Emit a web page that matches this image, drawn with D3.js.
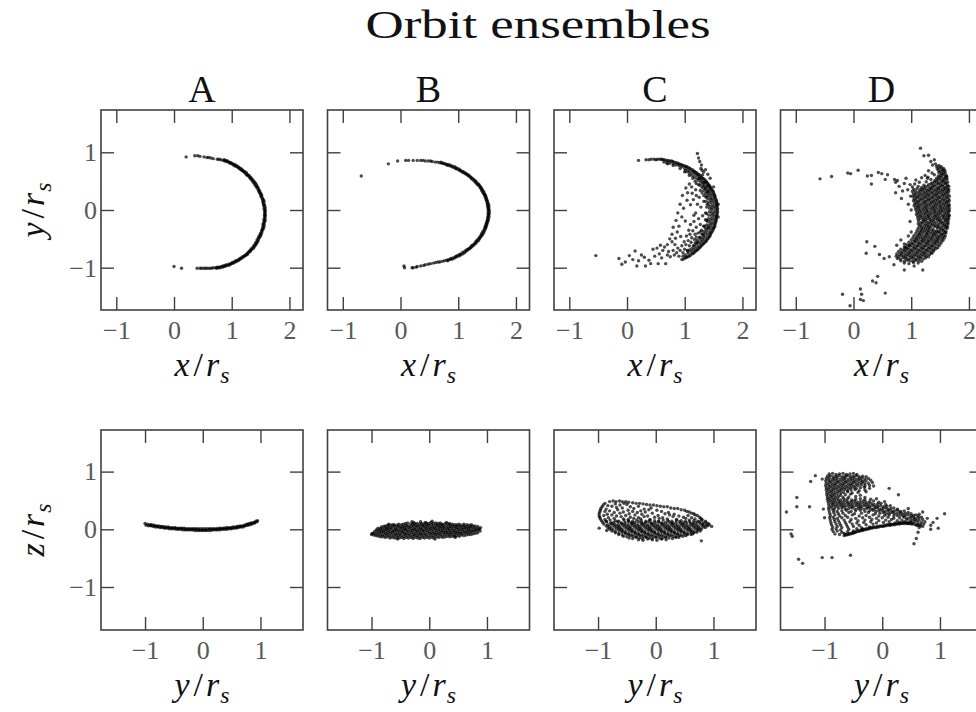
<!DOCTYPE html>
<html>
<head>
<meta charset="utf-8">
<script src="https://cdn.jsdelivr.net/npm/d3@7"></script>
<style>
html,body{margin:0;padding:0;background:#fff;overflow:hidden}
svg{display:block}
</style>
</head>
<body>
<svg id="fig" width="976" height="712"></svg>
<script>
// ---- ensemble labels and ticks ----
const ensembleNames = ["A", "B", "C", "D"];
const xyTicksX = [-1, 0, 1, 2];
const yzTicksX = [-1, 0, 1];
const ticksY = [-1, 0, 1];

// ---- particle positions, in units of r_s ----
// ensemble A, x-y plane
const orbitA_xy = [
[0.75,0.88],[0.78,0.88],[0.81,0.87],[0.85,0.86],[0.88,0.85],[0.91,0.84],[0.94,0.83],[0.97,0.81],[1.00,0.80],[1.03,0.78],[1.06,0.76],[1.09,0.75],[1.12,0.73],[1.14,0.71],[1.17,0.69],[1.20,0.67],[1.22,0.65],[1.25,0.62],[1.27,0.60],[1.30,0.58],[1.32,0.55],[1.34,0.53],[1.36,0.50],[1.38,0.47],[1.40,0.44],[1.42,0.41],[1.44,0.38],[1.46,0.35],[1.47,0.32],[1.49,0.29],[1.50,0.26],[1.51,0.23],[1.53,0.19],[1.54,0.16],[1.54,0.13],[1.55,0.09],[1.56,0.06],[1.56,0.02],[1.57,-0.01],[1.57,-0.05],[1.57,-0.09],[1.57,-0.12],[1.56,-0.16],[1.56,-0.19],[1.55,-0.23],[1.54,-0.26],[1.54,-0.30],[1.53,-0.33],[1.52,-0.36],[1.50,-0.40],[1.49,-0.43],[1.47,-0.46],[1.46,-0.49],[1.44,-0.52],[1.42,-0.56],[1.41,-0.59],[1.39,-0.61],[1.37,-0.64],[1.34,-0.67],[1.32,-0.70],[1.30,-0.72],[1.27,-0.75],[1.25,-0.77],[1.22,-0.79],[1.19,-0.81],[1.16,-0.83],[1.13,-0.85],[1.10,-0.87],[1.07,-0.88],[1.04,-0.90],[1.01,-0.91],[0.98,-0.93],[0.95,-0.94],[0.91,-0.95],[0.88,-0.96],[0.85,-0.97],[0.82,-0.98],[0.78,-0.99],[0.75,-0.99],[0.72,-1.00],[0.68,-1.00],[0.65,-1.01],[0.62,-1.01],[0.58,-1.01],[0.55,-1.01],[0.52,-1.01],[0.48,-1.01],[0.45,-1.01],
[0.87,0.87],[0.90,0.86],[0.93,0.85],[0.96,0.83],[0.99,0.82],[1.02,0.80],[1.05,0.79],[1.08,0.77],[1.11,0.75],[1.14,0.73],[1.17,0.71],[1.19,0.69],[1.22,0.67],[1.25,0.65],[1.27,0.62],[1.30,0.60],[1.32,0.57],[1.34,0.55],[1.37,0.52],[1.39,0.49],[1.41,0.47],[1.43,0.44],[1.44,0.41],[1.46,0.38],[1.48,0.34],[1.49,0.31],[1.51,0.28],[1.52,0.25],[1.53,0.21],[1.55,0.18],[1.56,0.15],[1.56,0.11],[1.57,0.08],[1.58,0.04],[1.58,0.00],[1.58,-0.03],[1.58,-0.07],[1.58,-0.10],[1.58,-0.14],[1.58,-0.18],[1.57,-0.21],[1.56,-0.25],[1.56,-0.28],[1.55,-0.32],[1.53,-0.35],[1.52,-0.39],[1.51,-0.42],[1.50,-0.45],[1.48,-0.48],[1.46,-0.52],[1.45,-0.55],[1.43,-0.58],[1.41,-0.61],[1.39,-0.64],[1.37,-0.67],[1.34,-0.69],[1.32,-0.72],[1.29,-0.74],[1.27,-0.77],[1.24,-0.79],[1.21,-0.81],[1.18,-0.83],[1.15,-0.85],[1.12,-0.87],[1.09,-0.89],[1.06,-0.90],[1.03,-0.92],[1.00,-0.93],[0.97,-0.95],[0.94,-0.96],[0.90,-0.97],[0.87,-0.98],[0.84,-0.99],[0.80,-1.00],[0.77,-1.00],[0.74,-1.01],
[0.21,0.92],[0.36,0.94],[0.41,0.94],[0.45,0.93],[0.52,0.92],[0.57,0.91],[0.60,0.91],[0.64,0.90],[0.68,0.89],[0.00,-0.98],[0.13,-1.01],[0.40,-1.01]
];
// ensemble A, y-z plane
const orbitA_yz = [
[-1.00,0.10],[-0.96,0.09],[-0.92,0.08],[-0.88,0.08],[-0.84,0.07],[-0.80,0.06],[-0.76,0.06],[-0.72,0.05],[-0.68,0.05],[-0.64,0.04],[-0.60,0.04],[-0.56,0.03],[-0.52,0.03],[-0.48,0.03],[-0.44,0.02],[-0.40,0.02],[-0.36,0.02],[-0.32,0.02],[-0.28,0.01],[-0.24,0.01],[-0.20,0.01],[-0.16,0.01],[-0.12,0.01],[-0.08,0.01],[-0.04,0.01],[0.00,0.01],[0.04,0.01],[0.08,0.01],[0.12,0.01],[0.16,0.01],[0.20,0.01],[0.24,0.01],[0.28,0.02],[0.32,0.02],[0.36,0.02],[0.40,0.03],[0.44,0.03],[0.48,0.03],[0.52,0.04],[0.56,0.04],[0.60,0.05],[0.64,0.06],[0.68,0.06],[0.72,0.07],[0.76,0.09],[0.80,0.10],[0.84,0.11],[0.88,0.12],[0.92,0.14],
[-0.98,0.07],[-0.94,0.06],[-0.90,0.06],[-0.86,0.05],[-0.82,0.04],[-0.78,0.04],[-0.74,0.03],[-0.70,0.03],[-0.66,0.02],[-0.62,0.02],[-0.58,0.01],[-0.54,0.01],[-0.50,0.01],[-0.46,0.00],[-0.42,0.00],[-0.38,0.00],[-0.34,-0.01],[-0.30,-0.01],[-0.26,-0.01],[-0.22,-0.01],[-0.18,-0.01],[-0.14,-0.02],[-0.10,-0.02],[-0.06,-0.02],[-0.02,-0.02],[0.02,-0.02],[0.06,-0.02],[0.10,-0.02],[0.14,-0.02],[0.18,-0.01],[0.22,-0.01],[0.26,-0.01],[0.30,-0.01],[0.34,0.00],[0.38,0.00],[0.42,0.00],[0.46,0.01],[0.50,0.01],[0.54,0.02],[0.58,0.02],[0.62,0.03],[0.66,0.04],[0.70,0.04],[0.74,0.06],[0.78,0.07],[0.82,0.08],[0.86,0.09],[0.90,0.11],[0.94,0.13],
[-0.90,0.07],[-0.84,0.06],[-0.78,0.05],[-0.72,0.04],[-0.66,0.03],[-0.60,0.03],[-0.54,0.02],[-0.48,0.02],[-0.42,0.01],[-0.36,0.01],[-0.30,0.00],[-0.24,0.00],[-0.18,0.00],[-0.12,0.00],[-0.06,-0.01],[0.00,-0.01],[0.06,-0.01],[0.12,0.00],[0.18,0.00],[0.24,0.00],[0.30,0.01],[0.36,0.01],[0.42,0.02],[0.48,0.02],[0.54,0.03],[0.60,0.04],[0.66,0.05],[0.72,0.06],[0.78,0.08],[0.84,0.10],[0.90,0.12],[0.95,0.15]
];
// ensemble B, x-y plane
const orbitB_xy = [
[0.55,0.84],[0.60,0.83],[0.64,0.83],[0.68,0.82],[0.72,0.81],[0.76,0.80],[0.80,0.78],[0.83,0.77],[0.87,0.76],[0.91,0.74],[0.95,0.72],[0.98,0.71],[1.02,0.69],[1.05,0.67],[1.08,0.65],[1.12,0.63],[1.15,0.61],[1.18,0.59],[1.21,0.57],[1.23,0.54],[1.26,0.52],[1.29,0.49],[1.31,0.47],[1.33,0.44],[1.36,0.42],[1.38,0.39],[1.40,0.36],[1.41,0.33],[1.43,0.30],[1.45,0.27],[1.46,0.25],[1.47,0.22],[1.48,0.19],[1.49,0.16],[1.50,0.12],[1.51,0.09],[1.51,0.06],[1.52,0.03],[1.52,0.00],[1.52,-0.03],[1.52,-0.06],[1.52,-0.09],[1.51,-0.13],[1.51,-0.16],[1.50,-0.19],[1.49,-0.22],[1.48,-0.25],[1.47,-0.28],[1.46,-0.31],[1.45,-0.34],[1.43,-0.37],[1.41,-0.40],[1.40,-0.43],[1.38,-0.46],[1.36,-0.49],[1.33,-0.52],[1.31,-0.54],[1.29,-0.57],[1.26,-0.60],[1.23,-0.62],[1.21,-0.65],[1.18,-0.67],[1.15,-0.69],[1.12,-0.71],[1.08,-0.73],[1.05,-0.76],[1.02,-0.77],[0.98,-0.79],[0.95,-0.81],[0.91,-0.83],[0.87,-0.84],[0.83,-0.86],[0.80,-0.87],[0.76,-0.88],
[0.70,0.83],[0.74,0.81],[0.78,0.80],[0.82,0.79],[0.86,0.78],[0.90,0.76],[0.94,0.75],[0.97,0.73],[1.01,0.71],[1.04,0.69],[1.08,0.67],[1.11,0.65],[1.14,0.63],[1.17,0.61],[1.20,0.59],[1.23,0.56],[1.26,0.54],[1.29,0.51],[1.31,0.49],[1.34,0.46],[1.36,0.44],[1.38,0.41],[1.40,0.38],[1.42,0.35],[1.44,0.32],[1.45,0.29],[1.47,0.26],[1.48,0.23],[1.49,0.20],[1.50,0.17],[1.51,0.14],[1.52,0.11],[1.53,0.08],[1.53,0.05],[1.53,0.02],[1.54,-0.01],[1.54,-0.05],[1.53,-0.08],[1.53,-0.11],[1.53,-0.14],[1.52,-0.18],[1.51,-0.21],[1.50,-0.24],[1.49,-0.27],[1.48,-0.30],[1.47,-0.33],[1.45,-0.37],[1.44,-0.40],[1.42,-0.43],[1.40,-0.45],[1.38,-0.48],[1.36,-0.51],[1.34,-0.54],[1.31,-0.57],[1.29,-0.59],[1.26,-0.62],[1.23,-0.64],[1.20,-0.67],[1.17,-0.69],[1.14,-0.71],[1.11,-0.74],[1.08,-0.76],[1.04,-0.78],[1.01,-0.80],[0.97,-0.81],[0.94,-0.83],[0.90,-0.85],[0.86,-0.86],[0.82,-0.88],
[-0.68,0.59],[-0.21,0.80],[-0.05,0.85],[0.09,0.86],[0.14,0.86],[0.22,0.86],[0.29,0.86],[0.35,0.86],[0.39,0.86],[0.43,0.85],[0.48,0.85],[0.52,0.85],
[0.06,-0.97],[0.07,-1.00],[0.20,-1.00],[0.22,-1.00],[0.27,-0.99],[0.29,-0.98],[0.35,-0.97],[0.40,-0.96],[0.43,-0.95],[0.48,-0.94],[0.52,-0.93],[0.57,-0.92],[0.61,-0.91],[0.65,-0.90],[0.68,-0.90],[0.72,-0.89]
];
// ensemble B, y-z plane
const orbitB_yz = [
[-1.00,-0.09],[-0.99,-0.07],
[-0.96,-0.10],[-0.97,-0.07],[-0.95,-0.04],
[-0.92,-0.11],[-0.93,-0.08],[-0.91,-0.04],[-0.92,-0.01],
[-0.88,-0.12],[-0.89,-0.08],[-0.87,-0.05],[-0.88,-0.01],[-0.89,0.02],
[-0.84,-0.13],[-0.85,-0.09],[-0.83,-0.05],[-0.84,-0.02],[-0.85,0.01],[-0.83,0.04],
[-0.80,-0.13],[-0.81,-0.10],[-0.79,-0.06],[-0.80,-0.03],[-0.81,0.01],[-0.79,0.05],
[-0.76,-0.14],[-0.77,-0.10],[-0.75,-0.07],[-0.76,-0.03],[-0.77,0.00],[-0.75,0.03],[-0.76,0.06],
[-0.72,-0.13],[-0.73,-0.09],[-0.71,-0.06],[-0.72,-0.02],[-0.73,0.01],[-0.71,0.04],[-0.72,0.07],
[-0.68,-0.15],[-0.69,-0.11],[-0.67,-0.07],[-0.68,-0.04],[-0.69,0.00],[-0.67,0.03],[-0.68,0.07],
[-0.64,-0.14],[-0.65,-0.10],[-0.63,-0.06],[-0.64,-0.03],[-0.65,0.01],[-0.63,0.05],[-0.64,0.08],
[-0.60,-0.15],[-0.61,-0.11],[-0.59,-0.08],[-0.60,-0.04],[-0.61,-0.01],[-0.59,0.02],[-0.60,0.06],[-0.61,0.08],
[-0.56,-0.14],[-0.57,-0.10],[-0.55,-0.07],[-0.56,-0.03],[-0.57,0.00],[-0.55,0.04],[-0.56,0.07],
[-0.52,-0.15],[-0.53,-0.11],[-0.51,-0.08],[-0.52,-0.04],[-0.53,-0.01],[-0.51,0.03],[-0.52,0.06],[-0.53,0.09],
[-0.48,-0.14],[-0.49,-0.10],[-0.47,-0.06],[-0.48,-0.03],[-0.49,0.01],[-0.47,0.04],[-0.48,0.08],
[-0.44,-0.16],[-0.45,-0.12],[-0.43,-0.08],[-0.44,-0.05],[-0.45,-0.01],[-0.43,0.02],[-0.44,0.05],[-0.45,0.09],
[-0.40,-0.14],[-0.41,-0.10],[-0.39,-0.07],[-0.40,-0.03],[-0.41,0.00],[-0.39,0.04],[-0.40,0.07],[-0.41,0.10],
[-0.36,-0.15],[-0.37,-0.11],[-0.35,-0.08],[-0.36,-0.04],[-0.37,-0.01],[-0.35,0.03],[-0.36,0.06],[-0.37,0.11],
[-0.32,-0.14],[-0.33,-0.10],[-0.31,-0.06],[-0.32,-0.02],[-0.33,0.02],[-0.31,0.05],[-0.32,0.09],
[-0.28,-0.16],[-0.29,-0.12],[-0.27,-0.09],[-0.28,-0.05],[-0.29,-0.01],[-0.27,0.02],[-0.28,0.06],[-0.29,0.09],[-0.27,0.12],
[-0.24,-0.14],[-0.25,-0.10],[-0.23,-0.07],[-0.24,-0.03],[-0.25,0.00],[-0.23,0.04],[-0.24,0.07],[-0.25,0.10],
[-0.20,-0.15],[-0.21,-0.11],[-0.19,-0.08],[-0.20,-0.04],[-0.21,-0.01],[-0.19,0.03],[-0.20,0.06],[-0.21,0.10],
[-0.16,-0.16],[-0.17,-0.12],[-0.15,-0.08],[-0.16,-0.05],[-0.17,-0.01],[-0.15,0.02],[-0.16,0.06],[-0.17,0.09],[-0.15,0.13],
[-0.12,-0.14],[-0.13,-0.10],[-0.11,-0.07],[-0.12,-0.03],[-0.13,0.00],[-0.11,0.04],[-0.12,0.07],[-0.13,0.10],
[-0.08,-0.15],[-0.09,-0.11],[-0.07,-0.08],[-0.08,-0.04],[-0.09,-0.01],[-0.07,0.03],[-0.08,0.06],[-0.09,0.09],[-0.07,0.12],
[-0.04,-0.14],[-0.05,-0.10],[-0.03,-0.06],[-0.04,-0.02],[-0.05,0.01],[-0.03,0.05],[-0.04,0.08],[-0.05,0.11],
[0.00,-0.15],[-0.01,-0.11],[0.01,-0.07],[0.00,-0.04],[-0.01,0.00],[0.01,0.03],[0.00,0.07],[-0.01,0.10],
[0.04,-0.14],[0.03,-0.10],[0.05,-0.07],[0.04,-0.03],[0.03,0.01],[0.05,0.04],[0.04,0.08],[0.03,0.12],
[0.08,-0.15],[0.07,-0.11],[0.09,-0.07],[0.08,-0.04],[0.07,0.00],[0.09,0.03],[0.08,0.06],[0.07,0.10],
[0.12,-0.13],[0.11,-0.09],[0.13,-0.06],[0.12,-0.02],[0.11,0.01],[0.13,0.05],[0.12,0.08],[0.11,0.11],
[0.16,-0.14],[0.15,-0.10],[0.17,-0.07],[0.16,-0.03],[0.15,0.00],[0.17,0.04],[0.16,0.07],[0.15,0.10],
[0.20,-0.13],[0.19,-0.09],[0.21,-0.05],[0.20,-0.02],[0.19,0.02],[0.21,0.05],[0.20,0.08],[0.19,0.11],
[0.24,-0.14],[0.23,-0.10],[0.25,-0.06],[0.24,-0.03],[0.23,0.01],[0.25,0.04],[0.24,0.07],[0.23,0.09],
[0.28,-0.13],[0.27,-0.09],[0.29,-0.05],[0.28,-0.02],[0.27,0.02],[0.29,0.06],[0.28,0.10],
[0.32,-0.12],[0.31,-0.08],[0.33,-0.05],[0.32,-0.01],[0.31,0.02],[0.33,0.05],[0.32,0.09],
[0.36,-0.13],[0.35,-0.09],[0.37,-0.06],[0.36,-0.02],[0.35,0.01],[0.37,0.05],[0.36,0.08],[0.35,0.10],
[0.40,-0.12],[0.39,-0.08],[0.41,-0.04],[0.40,-0.01],[0.39,0.03],[0.41,0.06],[0.40,0.09],
[0.44,-0.12],[0.43,-0.09],[0.45,-0.05],[0.44,-0.02],[0.43,0.02],[0.45,0.05],[0.44,0.08],
[0.48,-0.11],[0.47,-0.07],[0.49,-0.04],[0.48,0.00],[0.47,0.03],[0.49,0.06],[0.48,0.08],
[0.52,-0.12],[0.51,-0.08],[0.53,-0.05],[0.52,-0.01],[0.51,0.02],[0.53,0.06],[0.52,0.09],
[0.56,-0.10],[0.55,-0.07],[0.57,-0.03],[0.56,0.00],[0.55,0.04],[0.57,0.07],
[0.60,-0.11],[0.59,-0.07],[0.61,-0.04],[0.60,0.00],[0.59,0.03],[0.61,0.06],[0.60,0.09],
[0.64,-0.10],[0.63,-0.06],[0.65,-0.03],[0.64,0.01],[0.63,0.04],[0.65,0.08],
[0.68,-0.09],[0.67,-0.06],[0.69,-0.02],[0.68,0.01],[0.67,0.04],[0.69,0.07],
[0.72,-0.09],[0.71,-0.05],[0.73,-0.02],[0.72,0.02],[0.71,0.05],[0.73,0.08],
[0.76,-0.08],[0.75,-0.04],[0.77,-0.01],[0.76,0.03],[0.75,0.06],
[0.80,-0.07],[0.79,-0.03],[0.81,0.00],[0.80,0.03],[0.79,0.06],
[0.84,-0.06],[0.83,-0.02],[0.85,0.01],[0.84,0.05],
[0.88,-0.03],[0.87,0.00],[0.89,0.03],
[-0.70,0.09],[-0.30,0.13],[0.05,0.14],[0.30,0.12],[-0.55,-0.17],[0.10,-0.17],[0.45,-0.14]
];
// ensemble C, x-y plane
const orbitC_xy = [
[0.57,0.88],[0.62,0.87],[0.68,0.86],[0.74,0.85],[0.79,0.84],[0.85,0.82],[0.90,0.80],[0.95,0.78],[1.01,0.76],[1.05,0.74],[1.10,0.71],[1.15,0.68],[1.19,0.65],[1.23,0.62],[1.27,0.59],[1.31,0.55],[1.35,0.52],[1.38,0.48],[1.41,0.44],[1.44,0.40],[1.46,0.36],[1.49,0.32],[1.51,0.27],[1.52,0.23],[1.54,0.18],[1.55,0.14],[1.55,0.09],[1.56,0.05],[1.56,0.00],[1.56,-0.05],[1.55,-0.10],[1.55,-0.15],[1.54,-0.20],[1.52,-0.25],[1.51,-0.30],[1.49,-0.34],[1.46,-0.39],[1.44,-0.44],[1.41,-0.48],[1.38,-0.52],[1.35,-0.56],[1.31,-0.60],[1.27,-0.64],[1.23,-0.68],[1.19,-0.71],[1.15,-0.75],[1.10,-0.78],[1.05,-0.81],[1.01,-0.83],[0.95,-0.86],
[0.60,0.88],[0.65,0.87],[0.71,0.86],[0.77,0.85],[0.82,0.83],[0.88,0.81],[0.93,0.79],[0.98,0.77],[1.03,0.75],[1.08,0.73],[1.13,0.70],[1.17,0.67],[1.21,0.64],[1.25,0.61],[1.29,0.57],[1.33,0.54],[1.37,0.50],[1.40,0.46],[1.43,0.42],[1.45,0.38],[1.48,0.34],[1.50,0.30],[1.52,0.25],[1.53,0.21],[1.55,0.16],[1.56,0.11],[1.56,0.07],[1.57,0.02],[1.57,-0.03],[1.56,-0.08],[1.55,-0.13],[1.54,-0.18],[1.53,-0.23],[1.52,-0.28],[1.50,-0.32],[1.48,-0.37],[1.45,-0.41],[1.43,-0.46],[1.40,-0.50],[1.37,-0.54],[1.33,-0.58],[1.29,-0.62],[1.25,-0.66],[1.21,-0.70],[1.17,-0.73],[1.13,-0.76],[1.08,-0.80],[1.03,-0.82],[0.98,-0.85],
[0.64,0.83],[0.69,0.82],[0.74,0.81],[0.80,0.80],[0.85,0.78],[0.90,0.77],[0.95,0.75],[1.00,0.72],[1.05,0.70],[1.09,0.67],[1.14,0.65],[1.18,0.62],[1.22,0.59],[1.25,0.55],[1.29,0.52],[1.32,0.48],[1.35,0.45],[1.38,0.41],[1.41,0.37],[1.43,0.33],[1.45,0.29],[1.47,0.25],[1.48,0.20],[1.50,0.16],[1.51,0.12],[1.51,0.07],[1.52,0.03],[1.52,-0.02],[1.51,-0.06],[1.51,-0.11],[1.50,-0.16],[1.49,-0.21],[1.47,-0.25],[1.46,-0.30],[1.44,-0.34],[1.42,-0.39],[1.39,-0.43],[1.36,-0.47],[1.33,-0.51],[1.30,-0.55],[1.27,-0.59],[1.23,-0.63],[1.19,-0.66],[1.15,-0.69],[1.11,-0.72],[1.06,-0.75],[1.01,-0.78],[0.97,-0.80],
[1.01,0.68],[1.05,0.66],[1.09,0.63],[1.13,0.60],[1.17,0.57],[1.21,0.54],[1.24,0.51],[1.28,0.48],[1.31,0.44],[1.33,0.41],[1.36,0.37],[1.38,0.33],[1.40,0.29],[1.42,0.25],[1.44,0.21],[1.45,0.17],[1.46,0.13],[1.47,0.08],[1.47,0.04],[1.47,0.00],[1.47,-0.05],[1.47,-0.09],[1.46,-0.14],[1.45,-0.18],[1.44,-0.23],[1.42,-0.27],[1.40,-0.32],[1.38,-0.36],[1.36,-0.40],[1.33,-0.44],[1.31,-0.48],[1.28,-0.52],[1.24,-0.56],[1.21,-0.59],[1.17,-0.62],[1.13,-0.66],[1.09,-0.69],[1.05,-0.71],
[1.26,0.43],[1.30,0.39],[1.33,0.34],[1.36,0.29],[1.38,0.24],[1.40,0.19],[1.41,0.13],[1.42,0.08],[1.43,0.03],[1.43,-0.03],[1.42,-0.09],[1.41,-0.15],[1.40,-0.20],[1.38,-0.26],[1.36,-0.32],[1.33,-0.37],[1.30,-0.42],[1.26,-0.47],[1.22,-0.52],[1.18,-0.57],
[1.33,0.25],[1.36,0.15],[1.38,0.05],[1.38,-0.06],[1.36,-0.17],[1.33,-0.28],[1.27,-0.38],[1.20,-0.47],
[-0.54,-0.79],[-0.14,-0.84],[-0.09,-0.94],[0.04,-0.79],[0.14,-0.71],[0.17,-0.97],[0.25,-0.78],[0.32,-0.97],[0.38,-0.87],[0.41,-0.93],[0.45,-0.68],[0.54,-0.93],[0.56,-0.76],[0.58,-0.61],[0.65,-0.64],[0.67,-0.93],[0.75,-0.81],[0.78,-0.55],[0.80,-0.30],[0.84,-0.49],[0.87,-0.38],[0.90,-0.28],[0.93,-0.46],[0.95,-0.12],[0.98,0.03],[1.01,-0.19],[1.04,0.17],[1.07,-0.35],[1.10,0.09],[1.13,0.29],[1.16,-0.09],[1.19,0.35],
[1.22,0.98],[1.24,0.90],[1.26,0.84],[1.29,0.78],[1.30,0.69],[1.31,0.61],[1.28,0.72],[1.33,0.66],
[0.70,-0.78],[0.72,-0.72],[0.80,-0.70],[0.82,-0.78],[0.86,-0.74],[0.88,-0.66],[0.90,-0.80],[0.92,-0.70],[0.95,-0.62],[0.97,-0.74],[0.99,-0.55],[1.00,-0.68],[1.02,-0.60],[1.03,-0.45],[1.05,-0.70],[1.06,-0.53],[1.08,-0.62],[1.09,-0.42],[1.10,-0.25],[1.11,-0.56],[1.12,-0.48],[1.14,-0.36],[1.15,-0.62],[1.16,-0.20],[1.17,-0.51],[1.18,-0.42],[1.19,-0.05],[1.20,-0.30],[1.21,-0.56],[1.22,0.10],[1.23,-0.40],[1.24,-0.15],[1.25,0.22],[1.26,-0.48],[1.27,-0.25],[1.28,0.05],[1.29,-0.35],[1.30,0.30],[1.31,-0.10],[1.32,-0.42],[1.33,0.15],[1.34,-0.28],[1.35,0.38],[1.36,-0.05],[1.37,0.22],[1.38,-0.18],[1.39,0.10],[1.40,0.32],[1.41,-0.30],[1.12,0.40],[1.15,0.18],[1.18,0.50],[1.20,0.25],[1.24,0.44],[1.27,0.34],[1.05,0.30],[1.08,0.45],[1.02,0.38],[0.96,0.25],[0.92,0.10],[0.88,-0.05],[0.85,-0.18],[0.83,-0.60],[0.78,-0.42],[0.74,-0.50],[0.70,-0.60],[0.62,-0.70],[0.60,-0.83],[0.52,-0.66],[0.48,-0.80],[0.30,-0.82],[0.20,-0.88],[0.10,-0.86],[-0.03,-0.90],
[0.70,0.80],[0.80,0.77],[0.92,0.72],[1.00,0.66],[1.08,0.60],[1.14,0.55],[1.20,0.46],[1.26,0.55],[1.34,0.48],[1.40,0.42],
[0.20,0.86],[0.33,0.87],[0.38,0.87],[0.42,0.88],[0.47,0.88],[0.50,0.87],[0.53,0.88],
[1.44,0.55],[1.50,0.40],[1.58,0.10],[1.58,-0.12],[1.40,0.62],[1.36,0.70]
];
// ensemble C, y-z plane
const orbitC_yz = [
[-0.80,0.48],[-0.74,0.49],[-0.69,0.48],[-0.63,0.49],[-0.58,0.48],[-0.52,0.48],[-0.47,0.47],
[-0.88,0.45],[-0.70,0.44],[-0.55,0.45],[-0.40,0.46],[-0.34,0.45],[-0.28,0.45],[-0.22,0.44],
[-0.91,0.42],[-0.83,0.41],[-0.62,0.42],[-0.50,0.43],[-0.16,0.43],[-0.10,0.42],[-0.04,0.42],[0.02,0.41],
[-0.93,0.39],[-0.76,0.40],[-0.68,0.38],[-0.44,0.39],[-0.30,0.40],[0.08,0.40],[0.14,0.39],[0.20,0.39],
[-0.95,0.36],[-0.86,0.35],[-0.58,0.37],[-0.38,0.36],[-0.20,0.35],[-0.08,0.37],[0.26,0.37],[0.32,0.36],[0.38,0.36],
[-0.96,0.33],[-0.80,0.32],[-0.66,0.34],[-0.48,0.33],[-0.26,0.32],[-0.12,0.34],[0.02,0.33],[0.44,0.34],[0.50,0.33],
[-0.97,0.30],[-0.88,0.31],[-0.72,0.29],[-0.56,0.30],[-0.40,0.31],[-0.32,0.29],[-0.18,0.30],[0.10,0.31],[0.22,0.29],[0.54,0.31],[0.58,0.30],
[-0.98,0.27],[-0.84,0.26],[-0.62,0.28],[-0.46,0.27],[-0.24,0.26],[-0.06,0.28],[0.16,0.27],[0.32,0.26],[0.62,0.28],[0.66,0.27],
[-0.98,0.23],[-0.90,0.24],[-0.76,0.25],[-0.68,0.23],[-0.52,0.24],[-0.36,0.25],[-0.14,0.23],[0.04,0.24],[0.24,0.25],[0.40,0.23],[0.56,0.24],[0.68,0.25],[0.72,0.24],
[-0.97,0.21],[-0.82,0.20],[-0.60,0.22],[-0.44,0.21],[-0.30,0.20],[-0.20,0.22],[-0.02,0.21],[0.12,0.20],[0.30,0.22],[0.48,0.21],[0.62,0.20],[0.76,0.21],
[-0.96,0.18],[-0.88,0.17],[-0.72,0.19],[-0.56,0.18],[-0.48,0.17],[-0.38,0.19],[-0.26,0.18],[-0.10,0.17],[0.06,0.19],[0.20,0.18],[0.36,0.17],[0.52,0.19],[0.68,0.18],[0.80,0.17],
[-0.94,0.15],[-0.86,0.14],[-0.79,0.16],[-0.70,0.15],[-0.64,0.14],[-0.55,0.16],[-0.47,0.15],[-0.40,0.14],[-0.33,0.16],[-0.25,0.15],[-0.17,0.14],[-0.10,0.16],[-0.02,0.15],[0.05,0.14],[0.13,0.16],[0.21,0.15],[0.28,0.14],[0.36,0.16],[0.44,0.15],[0.51,0.14],[0.58,0.16],[0.66,0.15],[0.73,0.14],[0.80,0.16],[0.86,0.14],
[-0.92,0.12],[-0.85,0.13],[-0.78,0.11],[-0.73,0.12],[-0.66,0.13],[-0.60,0.11],[-0.53,0.12],[-0.47,0.13],[-0.42,0.11],[-0.36,0.12],[-0.30,0.13],[-0.24,0.11],[-0.18,0.12],[-0.12,0.13],[-0.07,0.11],[-0.01,0.12],[0.05,0.13],[0.11,0.11],[0.17,0.12],[0.23,0.13],[0.29,0.11],[0.35,0.12],[0.41,0.13],[0.47,0.11],[0.53,0.12],[0.59,0.13],[0.65,0.11],[0.70,0.12],[0.76,0.13],[0.82,0.11],[0.87,0.12],[0.91,0.10],
[-0.90,0.09],[-0.83,0.08],[-0.77,0.10],[-0.71,0.09],[-0.65,0.08],[-0.59,0.10],[-0.54,0.09],[-0.48,0.08],[-0.42,0.10],[-0.37,0.09],[-0.31,0.08],[-0.25,0.10],[-0.20,0.09],[-0.14,0.08],[-0.08,0.10],[-0.03,0.09],[0.03,0.08],[0.09,0.10],[0.14,0.09],[0.20,0.08],[0.26,0.10],[0.31,0.09],[0.37,0.08],[0.43,0.10],[0.48,0.09],[0.54,0.08],[0.60,0.10],[0.65,0.09],[0.71,0.08],[0.77,0.10],[0.82,0.09],[0.88,0.08],[0.93,0.08],
[-0.86,0.06],[-0.80,0.05],[-0.74,0.07],[-0.68,0.06],[-0.63,0.05],[-0.57,0.07],[-0.51,0.06],[-0.45,0.05],[-0.40,0.07],[-0.34,0.06],[-0.28,0.05],[-0.23,0.07],[-0.17,0.06],[-0.11,0.05],[-0.06,0.07],[0.00,0.06],[0.06,0.05],[0.11,0.07],[0.17,0.06],[0.23,0.05],[0.28,0.07],[0.34,0.06],[0.40,0.05],[0.45,0.07],[0.51,0.06],[0.57,0.05],[0.62,0.07],[0.68,0.06],[0.74,0.05],[0.80,0.07],[0.85,0.06],[0.90,0.06],
[-0.83,0.03],[-0.77,0.02],[-0.71,0.04],[-0.65,0.03],[-0.60,0.02],[-0.54,0.04],[-0.48,0.03],[-0.43,0.02],[-0.37,0.04],[-0.31,0.03],[-0.26,0.02],[-0.20,0.04],[-0.14,0.03],[-0.09,0.02],[-0.03,0.04],[0.03,0.03],[0.08,0.02],[0.14,0.04],[0.20,0.03],[0.25,0.02],[0.31,0.04],[0.37,0.03],[0.42,0.02],[0.48,0.04],[0.54,0.03],[0.59,0.02],[0.65,0.04],[0.71,0.03],[0.76,0.02],[0.82,0.04],[0.86,0.03],
[-0.80,0.00],[-0.74,-0.01],[-0.68,0.01],[-0.62,0.00],[-0.57,-0.01],[-0.51,0.01],[-0.45,0.00],[-0.40,-0.01],[-0.34,0.01],[-0.28,0.00],[-0.23,-0.01],[-0.17,0.01],[-0.11,0.00],[-0.06,-0.01],[0.00,0.01],[0.06,0.00],[0.11,-0.01],[0.17,0.01],[0.23,0.00],[0.28,-0.01],[0.34,0.01],[0.40,0.00],[0.45,-0.01],[0.51,0.01],[0.57,0.00],[0.62,-0.01],[0.68,0.01],[0.74,0.00],[0.79,0.00],
[-0.76,-0.03],[-0.70,-0.04],[-0.64,-0.02],[-0.59,-0.03],[-0.53,-0.04],[-0.47,-0.02],[-0.42,-0.03],[-0.36,-0.04],[-0.30,-0.02],[-0.25,-0.03],[-0.19,-0.04],[-0.13,-0.02],[-0.08,-0.03],[-0.02,-0.04],[0.04,-0.02],[0.09,-0.03],[0.15,-0.04],[0.21,-0.02],[0.26,-0.03],[0.32,-0.04],[0.38,-0.02],[0.43,-0.03],[0.49,-0.04],[0.55,-0.02],[0.60,-0.03],[0.66,-0.04],[0.72,-0.02],[0.77,-0.03],
[-0.70,-0.06],[-0.64,-0.07],[-0.58,-0.05],[-0.53,-0.06],[-0.47,-0.07],[-0.41,-0.05],[-0.36,-0.06],[-0.30,-0.07],[-0.24,-0.05],[-0.19,-0.06],[-0.13,-0.07],[-0.07,-0.05],[-0.02,-0.06],[0.04,-0.07],[0.10,-0.05],[0.15,-0.06],[0.21,-0.07],[0.27,-0.05],[0.32,-0.06],[0.38,-0.07],[0.44,-0.05],[0.49,-0.06],[0.55,-0.07],[0.61,-0.05],[0.66,-0.06],[0.71,-0.05],
[-0.64,-0.09],[-0.58,-0.10],[-0.52,-0.08],[-0.47,-0.09],[-0.41,-0.10],[-0.35,-0.08],[-0.30,-0.09],[-0.24,-0.10],[-0.18,-0.08],[-0.13,-0.09],[-0.07,-0.10],[-0.01,-0.08],[0.04,-0.09],[0.10,-0.10],[0.16,-0.08],[0.21,-0.09],[0.27,-0.10],[0.33,-0.08],[0.38,-0.09],[0.44,-0.10],[0.50,-0.08],[0.55,-0.09],[0.61,-0.09],[0.64,-0.08],
[-0.56,-0.12],[-0.50,-0.13],[-0.44,-0.11],[-0.38,-0.12],[-0.33,-0.13],[-0.27,-0.11],[-0.21,-0.12],[-0.16,-0.13],[-0.10,-0.11],[-0.04,-0.12],[0.01,-0.13],[0.07,-0.11],[0.13,-0.12],[0.18,-0.13],[0.24,-0.11],[0.30,-0.12],[0.35,-0.13],[0.41,-0.11],[0.47,-0.12],[0.52,-0.11],
[-0.46,-0.15],[-0.40,-0.16],[-0.34,-0.14],[-0.28,-0.15],[-0.23,-0.16],[-0.17,-0.14],[-0.11,-0.15],[-0.06,-0.16],[0.00,-0.14],[0.06,-0.15],[0.11,-0.16],[0.17,-0.14],[0.23,-0.15],[0.29,-0.16],[0.35,-0.14],[0.40,-0.14],
[-0.30,-0.18],[-0.22,-0.19],[-0.14,-0.17],[-0.06,-0.18],[0.02,-0.19],[0.10,-0.17],[0.18,-0.18],
[-0.98,0.02],[-0.85,-0.02],[0.97,0.05],[0.79,-0.20],[0.78,0.19]
];
// ensemble D, x-y plane
const orbitD_xy = [
[1.44,0.76],[1.48,0.77],[1.52,0.75],
[1.45,0.72],[1.49,0.73],[1.53,0.71],[1.56,0.72],
[1.30,0.68],[1.47,0.69],[1.51,0.67],[1.55,0.68],[1.58,0.69],
[1.36,0.64],[1.48,0.65],[1.52,0.63],[1.56,0.64],[1.59,0.65],
[1.24,0.60],[1.40,0.61],[1.47,0.59],[1.51,0.60],[1.55,0.61],[1.59,0.59],[1.61,0.60],
[1.18,0.56],[1.29,0.57],[1.44,0.55],[1.48,0.56],[1.52,0.57],[1.56,0.55],[1.60,0.56],[1.62,0.57],
[1.08,0.52],[1.34,0.53],[1.41,0.51],[1.46,0.52],[1.50,0.53],[1.54,0.51],[1.58,0.52],[1.62,0.53],
[1.14,0.48],[1.26,0.49],[1.36,0.47],[1.40,0.48],[1.44,0.49],[1.48,0.47],[1.52,0.48],[1.56,0.49],[1.60,0.47],[1.63,0.48],
[0.98,0.44],[1.06,0.45],[1.22,0.43],[1.30,0.44],[1.34,0.45],[1.38,0.43],[1.43,0.44],[1.47,0.45],[1.51,0.43],[1.55,0.44],[1.59,0.45],[1.63,0.43],
[1.02,0.40],[1.12,0.41],[1.18,0.39],[1.24,0.40],[1.28,0.41],[1.33,0.39],[1.37,0.40],[1.41,0.41],[1.46,0.39],[1.50,0.40],[1.54,0.41],[1.58,0.39],[1.62,0.40],[1.65,0.41],
[1.04,0.36],[1.10,0.37],[1.15,0.35],[1.19,0.36],[1.23,0.37],[1.27,0.35],[1.31,0.36],[1.35,0.37],[1.39,0.35],[1.43,0.36],[1.47,0.37],[1.51,0.35],[1.55,0.36],[1.59,0.37],[1.63,0.35],[1.65,0.36],
[1.02,0.32],[1.07,0.33],[1.12,0.31],[1.16,0.32],[1.21,0.33],[1.25,0.31],[1.29,0.32],[1.33,0.33],[1.37,0.31],[1.42,0.32],[1.46,0.33],[1.50,0.31],[1.54,0.32],[1.58,0.33],[1.62,0.31],[1.65,0.32],
[1.04,0.28],[1.08,0.29],[1.13,0.27],[1.17,0.28],[1.22,0.29],[1.26,0.27],[1.30,0.28],[1.35,0.29],[1.39,0.27],[1.43,0.28],[1.47,0.29],[1.52,0.27],[1.56,0.28],[1.60,0.29],[1.64,0.27],
[1.03,0.24],[1.07,0.25],[1.11,0.23],[1.15,0.24],[1.20,0.25],[1.24,0.23],[1.28,0.24],[1.32,0.25],[1.37,0.23],[1.41,0.24],[1.45,0.25],[1.49,0.23],[1.54,0.24],[1.58,0.25],[1.62,0.23],[1.66,0.24],
[1.05,0.20],[1.09,0.21],[1.14,0.19],[1.18,0.20],[1.22,0.21],[1.27,0.19],[1.31,0.20],[1.35,0.21],[1.39,0.19],[1.44,0.20],[1.48,0.21],[1.52,0.19],[1.56,0.20],[1.61,0.21],[1.65,0.19],
[1.04,0.16],[1.08,0.17],[1.12,0.15],[1.16,0.16],[1.21,0.17],[1.25,0.15],[1.29,0.16],[1.33,0.17],[1.38,0.15],[1.42,0.16],[1.46,0.17],[1.50,0.15],[1.55,0.16],[1.59,0.17],[1.63,0.15],[1.66,0.16],
[1.06,0.12],[1.10,0.13],[1.14,0.11],[1.19,0.12],[1.23,0.13],[1.27,0.11],[1.32,0.12],[1.36,0.13],[1.40,0.11],[1.44,0.12],[1.49,0.13],[1.53,0.11],[1.57,0.12],[1.61,0.13],[1.65,0.11],
[1.05,0.08],[1.09,0.09],[1.13,0.07],[1.17,0.08],[1.22,0.09],[1.26,0.07],[1.30,0.08],[1.34,0.09],[1.39,0.07],[1.43,0.08],[1.47,0.09],[1.51,0.07],[1.56,0.08],[1.60,0.09],[1.64,0.07],[1.66,0.08],
[1.07,0.04],[1.11,0.05],[1.15,0.03],[1.20,0.04],[1.24,0.05],[1.28,0.03],[1.33,0.04],[1.37,0.05],[1.41,0.03],[1.45,0.04],[1.50,0.05],[1.54,0.03],[1.58,0.04],[1.62,0.05],[1.66,0.03],
[1.08,0.00],[1.12,0.01],[1.17,-0.01],[1.21,0.00],[1.25,0.01],[1.29,-0.01],[1.34,0.00],[1.38,0.01],[1.42,-0.01],[1.47,0.00],[1.51,0.01],[1.55,-0.01],[1.59,0.00],[1.63,0.01],[1.66,-0.01],
[1.10,-0.04],[1.14,-0.03],[1.18,-0.05],[1.23,-0.04],[1.27,-0.03],[1.31,-0.05],[1.35,-0.04],[1.40,-0.03],[1.44,-0.05],[1.48,-0.04],[1.52,-0.03],[1.57,-0.05],[1.61,-0.04],[1.65,-0.03],
[1.09,-0.08],[1.13,-0.07],[1.17,-0.09],[1.22,-0.08],[1.26,-0.07],[1.30,-0.09],[1.34,-0.08],[1.39,-0.07],[1.43,-0.09],[1.47,-0.08],[1.51,-0.07],[1.56,-0.09],[1.60,-0.08],[1.64,-0.07],[1.66,-0.09],
[1.11,-0.12],[1.15,-0.11],[1.20,-0.13],[1.24,-0.12],[1.28,-0.11],[1.32,-0.13],[1.37,-0.12],[1.41,-0.11],[1.45,-0.13],[1.49,-0.12],[1.54,-0.11],[1.58,-0.13],[1.62,-0.12],[1.65,-0.11],
[1.12,-0.16],[1.16,-0.15],[1.21,-0.17],[1.25,-0.16],[1.29,-0.15],[1.33,-0.17],[1.38,-0.16],[1.42,-0.15],[1.46,-0.17],[1.50,-0.16],[1.55,-0.15],[1.59,-0.17],[1.63,-0.16],[1.65,-0.15],
[1.13,-0.20],[1.18,-0.21],[1.22,-0.19],[1.26,-0.20],[1.30,-0.21],[1.35,-0.19],[1.39,-0.20],[1.43,-0.21],[1.48,-0.19],[1.52,-0.20],[1.56,-0.21],[1.60,-0.19],[1.64,-0.20],
[1.12,-0.24],[1.16,-0.25],[1.20,-0.23],[1.25,-0.24],[1.29,-0.25],[1.33,-0.23],[1.37,-0.24],[1.41,-0.25],[1.46,-0.25],[1.50,-0.23],[1.54,-0.24],[1.58,-0.25],[1.62,-0.23],[1.64,-0.24],
[1.14,-0.28],[1.18,-0.29],[1.23,-0.27],[1.27,-0.28],[1.31,-0.29],[1.35,-0.27],[1.40,-0.28],[1.44,-0.29],[1.48,-0.28],[1.53,-0.29],[1.57,-0.27],[1.61,-0.28],[1.63,-0.29],
[1.12,-0.32],[1.17,-0.33],[1.21,-0.31],[1.25,-0.32],[1.29,-0.33],[1.33,-0.31],[1.38,-0.33],[1.46,-0.31],[1.50,-0.32],[1.55,-0.33],[1.59,-0.31],[1.62,-0.32],
[1.10,-0.36],[1.15,-0.37],[1.19,-0.35],[1.23,-0.36],[1.27,-0.37],[1.31,-0.35],[1.36,-0.36],[1.40,-0.37],[1.44,-0.36],[1.48,-0.37],[1.52,-0.35],[1.56,-0.36],[1.60,-0.37],
[1.08,-0.40],[1.13,-0.41],[1.17,-0.39],[1.21,-0.40],[1.26,-0.41],[1.30,-0.39],[1.34,-0.40],[1.38,-0.41],[1.42,-0.40],[1.46,-0.39],[1.50,-0.40],[1.54,-0.41],[1.58,-0.39],[1.60,-0.40],
[1.05,-0.44],[1.10,-0.45],[1.14,-0.43],[1.18,-0.44],[1.23,-0.45],[1.27,-0.43],[1.31,-0.44],[1.36,-0.45],[1.40,-0.43],[1.44,-0.44],[1.48,-0.45],[1.52,-0.43],[1.56,-0.44],[1.59,-0.45],
[1.03,-0.48],[1.08,-0.49],[1.12,-0.47],[1.16,-0.48],[1.20,-0.49],[1.25,-0.47],[1.29,-0.48],[1.33,-0.49],[1.37,-0.47],[1.42,-0.48],[1.46,-0.49],[1.50,-0.47],[1.54,-0.48],[1.57,-0.49],
[1.00,-0.52],[1.05,-0.53],[1.09,-0.51],[1.13,-0.52],[1.18,-0.53],[1.22,-0.51],[1.26,-0.52],[1.30,-0.53],[1.35,-0.51],[1.39,-0.52],[1.43,-0.53],[1.47,-0.51],[1.52,-0.52],[1.55,-0.53],
[0.96,-0.56],[1.01,-0.57],[1.06,-0.55],[1.10,-0.56],[1.14,-0.57],[1.19,-0.55],[1.23,-0.56],[1.27,-0.57],[1.31,-0.55],[1.36,-0.56],[1.40,-0.57],[1.44,-0.55],[1.48,-0.56],[1.52,-0.57],
[0.92,-0.60],[0.97,-0.61],[1.02,-0.59],[1.06,-0.60],[1.11,-0.61],[1.15,-0.59],[1.19,-0.60],[1.24,-0.61],[1.28,-0.59],[1.32,-0.60],[1.36,-0.61],[1.41,-0.59],[1.45,-0.60],[1.49,-0.61],
[0.88,-0.64],[0.93,-0.65],[0.98,-0.63],[1.03,-0.64],[1.07,-0.65],[1.11,-0.63],[1.16,-0.64],[1.20,-0.65],[1.24,-0.63],[1.29,-0.64],[1.33,-0.65],[1.37,-0.63],[1.41,-0.64],[1.46,-0.65],
[0.82,-0.68],[0.87,-0.69],[0.92,-0.67],[0.96,-0.68],[1.00,-0.69],[1.05,-0.67],[1.09,-0.68],[1.13,-0.69],[1.18,-0.67],[1.22,-0.68],[1.26,-0.69],[1.30,-0.67],[1.35,-0.68],[1.39,-0.69],[1.43,-0.67],
[0.78,-0.72],[0.83,-0.73],[0.88,-0.71],[0.92,-0.72],[0.97,-0.73],[1.01,-0.71],[1.05,-0.72],[1.10,-0.73],[1.14,-0.71],[1.18,-0.72],[1.22,-0.73],[1.27,-0.71],[1.31,-0.72],[1.35,-0.73],[1.39,-0.71],
[0.75,-0.76],[0.80,-0.77],[0.84,-0.75],[0.89,-0.76],[0.93,-0.77],[0.97,-0.75],[1.02,-0.76],[1.06,-0.77],[1.10,-0.75],[1.15,-0.76],[1.19,-0.77],[1.23,-0.75],[1.27,-0.76],[1.32,-0.77],[1.36,-0.75],
[0.74,-0.80],[0.78,-0.81],[0.83,-0.79],[0.87,-0.80],[0.91,-0.81],[0.96,-0.79],[1.00,-0.80],[1.04,-0.81],[1.09,-0.79],[1.13,-0.80],[1.17,-0.81],[1.22,-0.79],[1.26,-0.80],[1.30,-0.81],
[0.76,-0.84],[0.81,-0.85],[0.86,-0.83],[0.90,-0.84],[0.95,-0.85],[0.99,-0.83],[1.03,-0.84],[1.08,-0.85],[1.12,-0.83],[1.16,-0.84],[1.21,-0.85],[1.25,-0.83],
[0.82,-0.88],[0.88,-0.89],[0.93,-0.87],[0.98,-0.88],[1.03,-0.89],[1.08,-0.87],[1.13,-0.88],[1.18,-0.89],
[0.88,-0.92],[0.96,-0.93],[1.04,-0.91],[1.12,-0.92],
[1.16,1.07],[1.22,0.94],[1.30,0.95],[1.34,0.84],[1.40,0.87],[1.37,0.78],[1.28,0.55],[1.42,0.80],
[-0.58,0.54],[-0.38,0.58],[-0.10,0.64],[-0.05,0.63],[0.08,0.69],[0.24,0.59],[0.31,0.60],[0.31,0.45],[0.43,0.65],[0.49,0.63],[0.55,0.53],[0.59,0.61],[0.71,0.53],[0.73,0.48],[0.76,0.51],[0.79,0.41],[0.73,0.30],[0.83,0.20],[0.94,0.35],[0.95,0.10],[0.99,0.24],[0.88,0.46],[0.85,0.33],[0.91,0.55],
[0.23,-0.55],[0.22,-0.75],[0.37,-0.63],[0.45,-0.77],[0.53,-0.84],[0.62,-0.81],[0.75,-0.61],[0.88,-0.59],[0.90,-0.65],[0.97,-0.61],[0.82,-0.52],[0.95,-0.45],[1.00,-0.38],[0.98,-0.20],[1.00,0.00],
[0.42,-1.15],[0.33,-1.23],[0.39,-1.26],[0.12,-1.37],[0.14,-1.46],[0.17,-1.57],[0.12,-1.55],[-0.19,-1.46],[-0.06,-1.66],[0.55,-1.44],[0.88,-1.04],[1.20,-1.04],[0.70,-0.95],[1.05,-0.97]
];
// ensemble D, y-z plane
const orbitD_yz = [
[-0.92,0.96],[-0.86,0.97],[-0.80,0.95],[-0.74,0.96],[-0.68,0.97],[-0.62,0.95],[-0.56,0.96],[-0.50,0.97],[-0.44,0.95],
[-0.95,0.92],[-0.90,0.93],[-0.85,0.91],[-0.80,0.92],[-0.75,0.93],[-0.70,0.91],[-0.65,0.92],[-0.60,0.93],[-0.55,0.91],[-0.50,0.92],[-0.45,0.93],[-0.40,0.91],[-0.34,0.92],[-0.28,0.91],
[-0.97,0.88],[-0.92,0.89],[-0.87,0.87],[-0.83,0.88],[-0.78,0.89],[-0.73,0.87],[-0.68,0.88],[-0.64,0.89],[-0.59,0.87],[-0.54,0.88],[-0.49,0.89],[-0.45,0.87],[-0.40,0.88],[-0.35,0.89],[-0.30,0.87],[-0.24,0.88],
[-0.98,0.84],[-0.93,0.85],[-0.89,0.83],[-0.84,0.84],[-0.79,0.85],[-0.75,0.83],[-0.70,0.84],[-0.65,0.85],[-0.61,0.83],[-0.56,0.84],[-0.51,0.85],[-0.47,0.83],[-0.42,0.84],[-0.37,0.85],[-0.33,0.83],[-0.28,0.84],[-0.20,0.85],
[-0.97,0.80],[-0.92,0.81],[-0.87,0.79],[-0.82,0.80],[-0.78,0.81],[-0.73,0.79],[-0.68,0.80],[-0.64,0.81],[-0.59,0.79],[-0.54,0.80],[-0.50,0.81],[-0.45,0.79],[-0.40,0.80],[-0.35,0.81],[-0.30,0.79],[-0.24,0.80],[-0.17,0.81],
[-0.98,0.76],[-0.93,0.77],[-0.89,0.75],[-0.84,0.76],[-0.80,0.77],[-0.75,0.75],[-0.70,0.76],[-0.66,0.77],[-0.61,0.75],[-0.56,0.76],[-0.52,0.77],[-0.47,0.75],[-0.42,0.76],[-0.36,0.77],[-0.30,0.75],[-0.22,0.76],[-0.15,0.75],
[-0.97,0.72],[-0.92,0.73],[-0.87,0.71],[-0.83,0.72],[-0.78,0.73],[-0.73,0.71],[-0.69,0.72],[-0.64,0.73],[-0.59,0.71],[-0.55,0.72],[-0.50,0.73],[-0.45,0.71],[-0.38,0.72],[-0.31,0.73],[-0.22,0.71],
[-0.97,0.68],[-0.93,0.69],[-0.88,0.67],[-0.84,0.68],[-0.79,0.69],[-0.74,0.67],[-0.70,0.68],[-0.65,0.69],[-0.60,0.67],[-0.54,0.68],[-0.47,0.69],[-0.40,0.67],[-0.30,0.68],
[-0.96,0.64],[-0.91,0.65],[-0.87,0.63],[-0.82,0.64],[-0.77,0.65],[-0.72,0.63],[-0.67,0.64],[-0.60,0.65],[-0.52,0.63],[-0.42,0.64],[-0.28,0.65],
[-0.96,0.60],[-0.92,0.61],[-0.87,0.59],[-0.83,0.60],[-0.78,0.61],[-0.72,0.59],[-0.64,0.60],[-0.55,0.61],[-0.38,0.59],
[-0.95,0.56],[-0.90,0.57],[-0.86,0.55],[-0.81,0.56],[-0.76,0.57],[-0.68,0.55],[-0.58,0.56],[-0.46,0.57],[-0.30,0.55],
[-0.95,0.52],[-0.91,0.53],[-0.86,0.51],[-0.82,0.52],[-0.77,0.53],[-0.72,0.51],[-0.66,0.52],[-0.60,0.53],[-0.53,0.51],[-0.46,0.52],[-0.38,0.53],[-0.30,0.51],[-0.20,0.52],[-0.10,0.53],
[-0.94,0.48],[-0.90,0.49],[-0.85,0.47],[-0.81,0.48],[-0.76,0.49],[-0.72,0.47],[-0.67,0.48],[-0.62,0.49],[-0.58,0.47],[-0.53,0.48],[-0.48,0.49],[-0.43,0.47],[-0.38,0.48],[-0.33,0.49],[-0.28,0.47],[-0.22,0.48],[-0.15,0.49],[-0.06,0.47],[0.04,0.48],
[-0.93,0.44],[-0.88,0.45],[-0.84,0.43],[-0.79,0.44],[-0.75,0.45],[-0.70,0.43],[-0.66,0.44],[-0.61,0.45],[-0.56,0.43],[-0.52,0.44],[-0.47,0.45],[-0.42,0.43],[-0.38,0.44],[-0.33,0.45],[-0.28,0.43],[-0.24,0.44],[-0.19,0.45],[-0.14,0.43],[-0.08,0.44],[-0.02,0.45],[0.06,0.43],
[-0.92,0.40],[-0.87,0.41],[-0.82,0.39],[-0.78,0.40],[-0.73,0.41],[-0.68,0.39],[-0.64,0.40],[-0.59,0.41],[-0.54,0.39],[-0.50,0.40],[-0.45,0.41],[-0.40,0.39],[-0.36,0.40],[-0.31,0.41],[-0.26,0.39],[-0.22,0.40],[-0.17,0.41],[-0.12,0.39],[-0.08,0.40],[-0.03,0.41],[0.02,0.39],[0.08,0.40],[0.14,0.41],
[-0.93,0.36],[-0.88,0.37],[-0.83,0.35],[-0.76,0.36],[-0.70,0.37],[-0.64,0.35],[-0.58,0.36],[-0.52,0.37],[-0.47,0.35],[-0.42,0.36],[-0.37,0.37],[-0.32,0.35],[-0.27,0.36],[-0.22,0.37],[-0.18,0.35],[-0.13,0.36],[-0.08,0.37],[-0.04,0.35],[0.01,0.36],[0.06,0.37],[0.10,0.35],[0.15,0.36],[0.20,0.37],[0.26,0.35],
[-0.92,0.32],[-0.85,0.33],[-0.78,0.31],[-0.70,0.32],[-0.62,0.33],[-0.54,0.31],[-0.46,0.32],[-0.38,0.33],[-0.30,0.31],[-0.22,0.32],[-0.16,0.33],[-0.11,0.31],[-0.06,0.32],[-0.01,0.33],[0.04,0.31],[0.09,0.32],[0.13,0.33],[0.18,0.31],[0.22,0.32],[0.27,0.33],[0.32,0.31],[0.38,0.32],
[-0.91,0.28],[-0.84,0.29],[-0.76,0.27],[-0.68,0.28],[-0.58,0.29],[-0.48,0.27],[-0.36,0.28],[-0.24,0.29],[-0.12,0.27],[-0.04,0.28],[0.02,0.29],[0.07,0.27],[0.12,0.28],[0.17,0.29],[0.21,0.27],[0.26,0.28],[0.31,0.29],[0.35,0.27],[0.40,0.28],[0.45,0.29],[0.50,0.27],
[-0.90,0.24],[-0.82,0.25],[-0.74,0.23],[-0.64,0.24],[-0.52,0.25],[-0.40,0.23],[-0.28,0.24],[-0.16,0.25],[-0.06,0.23],[0.04,0.24],[0.12,0.25],[0.20,0.23],[0.26,0.24],[0.31,0.25],[0.36,0.23],[0.40,0.24],[0.45,0.25],[0.50,0.23],[0.54,0.24],[0.58,0.25],[0.62,0.23],
[-0.91,0.20],[-0.85,0.21],[-0.78,0.19],[-0.70,0.20],[-0.60,0.21],[-0.46,0.19],[-0.34,0.20],[-0.22,0.21],[-0.10,0.19],[0.00,0.20],[0.10,0.21],[0.20,0.19],[0.30,0.20],[0.38,0.21],[0.44,0.19],[0.49,0.20],[0.54,0.21],[0.58,0.19],[0.63,0.20],[0.68,0.21],
[-0.90,0.16],[-0.83,0.17],[-0.76,0.15],[-0.66,0.16],[-0.54,0.17],[-0.42,0.15],[-0.30,0.16],[-0.18,0.17],[-0.06,0.15],[0.06,0.16],[0.16,0.17],[0.26,0.15],[0.34,0.16],[0.42,0.17],[0.48,0.15],[0.52,0.16],[0.56,0.17],[0.60,0.15],[0.64,0.16],[0.70,0.17],
[-0.89,0.12],[-0.82,0.13],[-0.74,0.11],[-0.64,0.12],[-0.56,0.13],[-0.44,0.11],[-0.32,0.12],[-0.20,0.13],[-0.10,0.11],[0.02,0.12],[0.12,0.13],[0.22,0.11],[0.30,0.12],[0.38,0.13],[0.44,0.11],[0.50,0.12],[0.56,0.13],[0.62,0.11],[0.68,0.12],[0.74,0.13],
[-0.88,0.08],[-0.80,0.09],[-0.72,0.07],[-0.62,0.08],[-0.52,0.09],[-0.40,0.07],[-0.28,0.08],[-0.16,0.09],[0.14,0.08],[0.60,0.07],[0.66,0.08],[0.72,0.09],[0.84,0.07],
[-0.86,0.04],[-0.78,0.05],[-0.70,0.03],[-0.60,0.04],[-0.50,0.05],[-0.36,0.03],[-0.22,0.04],[0.64,0.03],
[-0.87,0.00],[-0.80,0.01],[-0.72,-0.01],[-0.58,0.00],[-0.44,0.01],[-0.34,0.00],
[-0.85,-0.04],[-0.78,-0.03],[-0.70,-0.05],[-0.60,-0.04],[-0.50,-0.03],
[-0.82,-0.08],[-0.74,-0.09],[-0.66,-0.07],
[-0.66,-0.11],[-0.62,-0.10],[-0.58,-0.09],[-0.54,-0.08],[-0.50,-0.07],[-0.46,-0.05],[-0.42,-0.04],[-0.38,-0.03],[-0.34,-0.02],[-0.30,-0.01],[-0.26,0.00],[-0.22,0.01],[-0.18,0.02],[-0.14,0.03],[-0.10,0.03],[-0.06,0.04],[-0.02,0.05],[0.02,0.05],[0.06,0.06],[0.10,0.07],[0.14,0.07],[0.18,0.08],[0.22,0.08],[0.26,0.09],[0.30,0.09],[0.34,0.10],[0.38,0.10],[0.42,0.10],[0.46,0.10],[0.50,0.09],[0.54,0.09],[0.58,0.08],[0.62,0.07],[0.66,0.06],[0.70,0.05],
[-0.64,-0.09],[-0.60,-0.08],[-0.56,-0.07],[-0.52,-0.06],[-0.48,-0.05],[-0.44,-0.03],[-0.40,-0.02],[-0.36,-0.01],[-0.32,0.00],[-0.28,0.01],[-0.24,0.02],[-0.20,0.03],[-0.16,0.04],[-0.12,0.04],[-0.08,0.05],[-0.04,0.06],[0.00,0.06],[0.04,0.07],[0.08,0.08],[0.12,0.08],[0.16,0.09],[0.20,0.09],[0.24,0.10],[0.28,0.10],[0.32,0.11],[0.36,0.11],[0.40,0.12],[0.44,0.11],[0.48,0.11],[0.52,0.10],
[-1.66,0.30],[-1.58,-0.08],[-1.56,-0.12],[-1.48,0.55],[-1.48,0.39],[-1.45,-0.52],[-1.38,-0.59],[-1.26,0.39],[-1.24,0.83],[-1.16,0.93],[-1.04,0.87],[-1.04,-0.49],[-0.87,-0.49],[-0.55,-0.45],[-1.02,0.35],[-1.00,0.20],[0.12,0.71],[0.28,0.60],[0.45,0.36],[0.55,-0.25],[0.59,-0.16],[0.78,0.19],[0.88,0.12],[0.95,0.19],[0.97,0.02],[1.08,0.27],[0.84,0.00],[0.64,0.26],[0.70,0.30],[0.62,-0.05]
];

const ensembles = [
  { name: ensembleNames[0], xy: orbitA_xy, yz: orbitA_yz },
  { name: ensembleNames[1], xy: orbitB_xy, yz: orbitB_yz },
  { name: ensembleNames[2], xy: orbitC_xy, yz: orbitC_yz },
  { name: ensembleNames[3], xy: orbitD_xy, yz: orbitD_yz }
];

// ---- layout ----
const svg = d3.select("#fig");
const serif = "Liberation Serif, DejaVu Serif, serif";
const inkFrame = "#404040";
const inkTick = "#595959";
const pw = 202, ph = 200;
const colLeft = [101, 327.5, 554, 780.5];
const projections = [
  { key: "xy", top: 110, xDom: [-1.265, 2.235], yDom: [-1.733, 1.733], xTicks: xyTicksX, xSym: "x", ySym: "y", xLabelY: 376 },
  { key: "yz", top: 430, xDom: [-1.763, 1.737], yDom: [-1.745, 1.721], xTicks: yzTicksX, xSym: "y", ySym: "z", xLabelY: 696 }
];

// "v/r_s" set in math italic
function mathLabel(text, sym) {
  text.append("tspan").attr("font-style", "italic").text(sym);
  text.append("tspan").attr("dx", 4).text("/");
  text.append("tspan").attr("dx", 3).attr("font-style", "italic").text("r");
  text.append("tspan").attr("dx", 1).attr("dy", 7).attr("font-size", "0.7em").attr("font-style", "italic").text("s");
}

svg.append("text")
  .attr("x", 538).attr("y", 38)
  .attr("text-anchor", "middle")
  .attr("font-family", serif).attr("font-size", 40).attr("fill", "#111")
  .attr("textLength", 345).attr("lengthAdjust", "spacingAndGlyphs")
  .text("Orbit ensembles");

svg.append("defs").append("clipPath").attr("id", "panelClip")
  .append("rect").attr("width", pw).attr("height", ph);

ensembles.forEach((ens, ci) => {
  const left = colLeft[ci];
  svg.append("text")
    .attr("x", left + pw / 2).attr("y", 102)
    .attr("text-anchor", "middle")
    .attr("font-family", serif).attr("font-size", 38).attr("fill", "#111")
    .text(ens.name);

  projections.forEach(pr => {
    const g = svg.append("g").attr("transform", `translate(${left},${pr.top})`);
    const x = d3.scaleLinear().domain(pr.xDom).range([0, pw]);
    const y = d3.scaleLinear().domain(pr.yDom).range([ph, 0]);

    g.append("g").attr("clip-path", "url(#panelClip)")
      .selectAll("circle").data(ens[pr.key]).join("circle")
      .attr("cx", d => x(d[0])).attr("cy", d => y(d[1]))
      .attr("r", 1.7).attr("fill", "#000").attr("fill-opacity", 0.7);

    const fmt = d3.format("d");
    const styleAxis = a => {
      a.attr("font-family", serif).attr("font-size", 26);
      a.select(".domain").remove();
      a.selectAll(".tick line").attr("stroke", inkFrame).attr("stroke-width", 1.4);
      a.selectAll(".tick text").attr("fill", inkTick);
    };
    g.append("g").attr("transform", `translate(0,${ph})`)
      .call(d3.axisBottom(x).tickValues(pr.xTicks).tickSizeInner(-13).tickSizeOuter(0).tickPadding(11).tickFormat(fmt))
      .call(styleAxis);
    g.append("g")
      .call(d3.axisTop(x).tickValues(pr.xTicks).tickSizeInner(-13).tickSizeOuter(0).tickFormat(() => ""))
      .call(styleAxis);
    g.append("g")
      .call(d3.axisLeft(y).tickValues(ticksY).tickSizeInner(-13).tickSizeOuter(0).tickPadding(4)
        .tickFormat(ci === 0 ? fmt : () => ""))
      .call(styleAxis);
    g.append("g").attr("transform", `translate(${pw},0)`)
      .call(d3.axisRight(y).tickValues(ticksY).tickSizeInner(-13).tickSizeOuter(0).tickFormat(() => ""))
      .call(styleAxis);

    g.append("rect").attr("width", pw).attr("height", ph)
      .attr("fill", "none").attr("stroke", inkFrame).attr("stroke-width", 1.6);

    const xl = svg.append("text")
      .attr("x", left + pw / 2).attr("y", pr.xLabelY)
      .attr("text-anchor", "middle")
      .attr("font-family", serif).attr("font-size", 34).attr("fill", "#111");
    mathLabel(xl, pr.xSym);

    if (ci === 0) {
      const yl = svg.append("text")
        .attr("transform", `translate(44,${pr.top + ph / 2}) rotate(-90)`)
        .attr("text-anchor", "middle")
        .attr("font-family", serif).attr("font-size", 34).attr("fill", "#111");
      mathLabel(yl, pr.ySym);
    }
  });
});
</script>
</body>
</html>
